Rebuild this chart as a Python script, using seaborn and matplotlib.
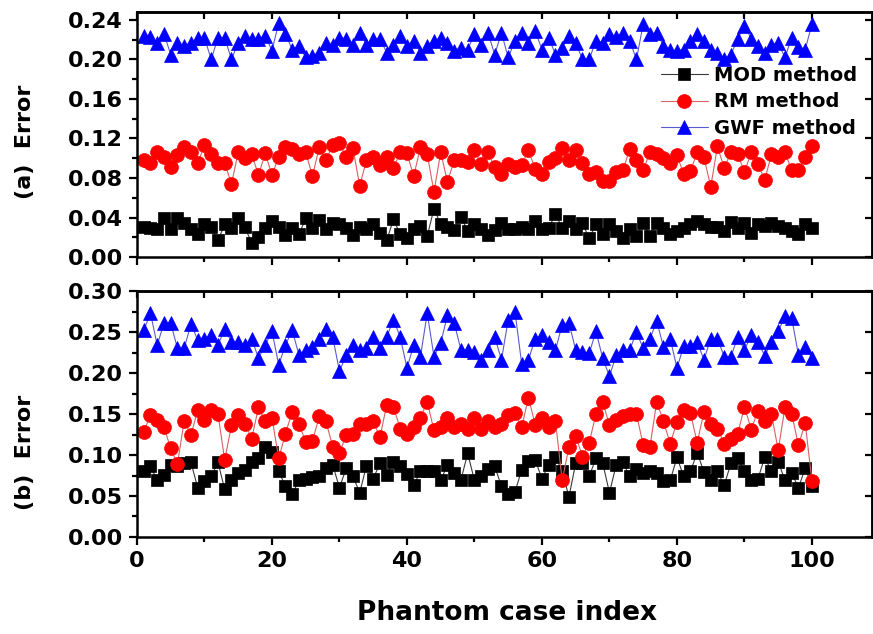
import numpy as np
import pandas as pd
import matplotlib
matplotlib.use("Agg")
import matplotlib.pyplot as plt
import seaborn as sns
from matplotlib.ticker import MultipleLocator, FormatStrFormatter

case_index = list(range(1, 101))

# panel (a)
mod_a = [.030, .029, .028, .039, .028, .039, .034, .028, .023, .033,
         .030, .017, .033, .029, .039, .030, .014, .020, .029, .036,
         .030, .022, .029, .023, .039, .029, .037, .028, .034, .033,
         .029, .022, .030, .028, .033, .024, .017, .038, .023, .019,
         .028, .031, .021, .049, .033, .030, .027, .041, .026, .033,
         .028, .022, .027, .034, .028, .028, .030, .028, .036, .028,
         .029, .044, .029, .036, .028, .034, .019, .033, .023, .033,
         .026, .019, .028, .021, .034, .021, .034, .029, .023, .026,
         .029, .033, .036, .033, .030, .030, .026, .035, .029, .034,
         .024, .033, .031, .034, .031, .029, .026, .023, .033, .029]
rm_a = [.098, .095, .106, .101, .091, .103, .111, .106, .095, .113,
        .104, .095, .095, .074, .106, .100, .104, .083, .105, .083,
        .101, .111, .109, .104, .106, .082, .111, .098, .113, .115,
        .101, .110, .072, .098, .101, .093, .101, .090, .106, .105,
        .082, .111, .104, .066, .106, .076, .098, .098, .096, .108,
        .094, .106, .091, .084, .094, .091, .093, .108, .089, .084,
        .096, .100, .110, .098, .108, .095, .084, .086, .077, .077,
        .086, .088, .109, .098, .088, .106, .104, .100, .095, .103,
        .084, .087, .106, .101, .071, .112, .090, .106, .104, .086,
        .106, .094, .078, .104, .101, .106, .088, .088, .101, .112]
gwf_a = [.224, .223, .217, .226, .205, .217, .214, .217, .222, .222,
         .200, .222, .222, .200, .217, .224, .221, .221, .224, .209,
         .237, .226, .210, .214, .202, .204, .207, .217, .215, .222,
         .221, .215, .227, .215, .221, .221, .207, .215, .224, .214,
         .219, .207, .214, .219, .222, .217, .209, .212, .210, .226,
         .215, .227, .205, .227, .202, .219, .227, .217, .229, .210,
         .222, .205, .212, .224, .217, .200, .200, .219, .217, .226,
         .223, .227, .219, .200, .236, .226, .227, .214, .210, .209,
         .210, .219, .226, .219, .210, .207, .200, .205, .221, .234,
         .221, .214, .207, .215, .217, .202, .222, .213, .210, .236]

# panel (b)
mod_b = [.080, .086, .069, .076, .088, .086, .090, .091, .060, .068,
         .074, .091, .058, .070, .078, .082, .092, .096, .110, .104,
         .080, .062, .052, .069, .071, .073, .074, .084, .088, .060,
         .084, .074, .054, .087, .071, .090, .076, .092, .086, .077,
         .063, .080, .080, .080, .069, .088, .078, .070, .102, .069,
         .074, .083, .086, .062, .053, .055, .082, .093, .094, .071,
         .088, .098, .080, .049, .090, .090, .074, .096, .090, .054,
         .088, .091, .074, .083, .078, .080, .078, .068, .069, .097,
         .074, .080, .103, .079, .070, .080, .063, .090, .096, .080,
         .069, .071, .097, .080, .092, .069, .078, .060, .084, .062]
rm_b = [.128, .149, .143, .134, .108, .089, .142, .124, .155, .143,
        .155, .150, .094, .136, .149, .138, .120, .158, .141, .145,
        .096, .126, .153, .138, .116, .117, .147, .141, .110, .102,
        .125, .126, .138, .138, .141, .122, .161, .159, .132, .126,
        .134, .145, .165, .130, .134, .145, .134, .138, .132, .145,
        .132, .141, .134, .138, .149, .151, .134, .170, .137, .145,
        .134, .141, .069, .110, .123, .098, .115, .150, .165, .136,
        .143, .147, .150, .150, .112, .110, .165, .141, .114, .140,
        .155, .151, .115, .153, .138, .132, .114, .120, .126, .159,
        .131, .154, .142, .150, .106, .158, .150, .112, .139, .068]
gwf_b = [.252, .273, .234, .261, .261, .230, .230, .260, .240, .242,
         .246, .234, .254, .238, .238, .234, .242, .218, .234, .251,
         .210, .234, .252, .222, .228, .232, .242, .254, .244, .202,
         .222, .234, .228, .230, .244, .230, .244, .265, .244, .206,
         .234, .220, .273, .220, .236, .271, .261, .228, .228, .226,
         .216, .228, .244, .216, .265, .275, .211, .216, .242, .246,
         .238, .228, .259, .261, .228, .226, .224, .251, .218, .196,
         .222, .228, .228, .250, .230, .242, .263, .232, .242, .206,
         .233, .233, .238, .216, .242, .242, .220, .220, .244, .228,
         .246, .238, .221, .238, .251, .269, .267, .222, .232, .218]

method_names = ["MOD method", "RM method", "GWF method"]

sns.set_style("ticks")
plt.rcParams['font.family'] = ['DejaVu Sans']
plt.rcParams['font.weight'] = 'bold'
plt.rcParams['axes.linewidth'] = 1.8
for key in ['text.color', 'axes.labelcolor', 'axes.edgecolor',
            'xtick.color', 'ytick.color']:
    plt.rcParams[key] = 'black'

# marker, marker size, marker colour, line colour
looks = [('s', 8.5, 'black', '#3a3a3a'),
         ('o', 10, 'red', '#d86060'),
         ('^', 10.5, 'blue', '#5a5ad0')]

fig = plt.figure(figsize=(8.73, 6.34), dpi=100)
ax_a = fig.add_axes([0.1569, 0.5946, 0.8420, 0.3864])
ax_b = fig.add_axes([0.1569, 0.1530, 0.8420, 0.3880])


def draw(ax, series):
    for name, vals, (mk, ms, mc, lc) in zip(method_names, series, looks):
        sns.lineplot(x=case_index, y=vals, ax=ax, color=lc, linewidth=0.8,
                     marker=mk, markersize=ms, markerfacecolor=mc,
                     markeredgecolor=mc, markeredgewidth=0.5, label=name)


def style(ax, ymax, ystep, show_xlabels):
    ax.set_xlim(0, 108.9)
    ax.set_ylim(0, ymax)
    ax.xaxis.set_major_locator(MultipleLocator(20))
    ax.xaxis.set_minor_locator(MultipleLocator(10))
    ax.yaxis.set_major_locator(MultipleLocator(ystep))
    ax.yaxis.set_minor_locator(MultipleLocator(ystep / 2))
    ax.yaxis.set_major_formatter(FormatStrFormatter('%.2f'))
    ax.tick_params(which='major', direction='out', length=6, width=1.6,
                   labelsize=16, pad=4, top=False, right=False)
    ax.tick_params(which='minor', direction='out', length=3.5, width=1.6,
                   top=False, right=False)
    ax.tick_params(axis='x', labelbottom=show_xlabels)
    for s in ax.spines.values():
        s.set_visible(True)
        s.set_linewidth(1.8)
        s.set_color('black')
    # inward ticks on the top and right sides
    top = ax.secondary_xaxis('top')
    top.xaxis.set_major_locator(MultipleLocator(10))
    top.tick_params(direction='in', length=5, width=1.6, labeltop=False)
    right = ax.secondary_yaxis('right')
    right.yaxis.set_major_locator(MultipleLocator(ystep))
    right.tick_params(direction='in', length=5, width=1.6, labelright=False)
    ax.set_xlabel('')
    ax.set_ylabel('')


draw(ax_a, [mod_a, rm_a, gwf_a])
draw(ax_b, [mod_b, rm_b, gwf_b])
style(ax_a, 0.248, 0.04, False)
style(ax_b, 0.30, 0.05, True)

ax_b.get_legend().remove()
ax_a.legend(loc='upper left', bbox_to_anchor=(0.713, 0.78), frameon=False,
            fontsize=14, handlelength=2.4, handletextpad=0.3,
            labelspacing=0.38, borderpad=0, borderaxespad=0)

ax_b.set_xlabel('Phantom case index', fontsize=19, fontweight='bold')
ax_b.xaxis.set_label_coords(0.504, -0.256)

fig.text(25 / 873, 1 - 142 / 634, '(a)  Error', rotation=90, fontsize=16,
         fontweight='bold', ha='center', va='center')
fig.text(25 / 873, 1 - 452 / 634, '(b)  Error', rotation=90, fontsize=16,
         fontweight='bold', ha='center', va='center')

fig.savefig('out.png', dpi=100)
